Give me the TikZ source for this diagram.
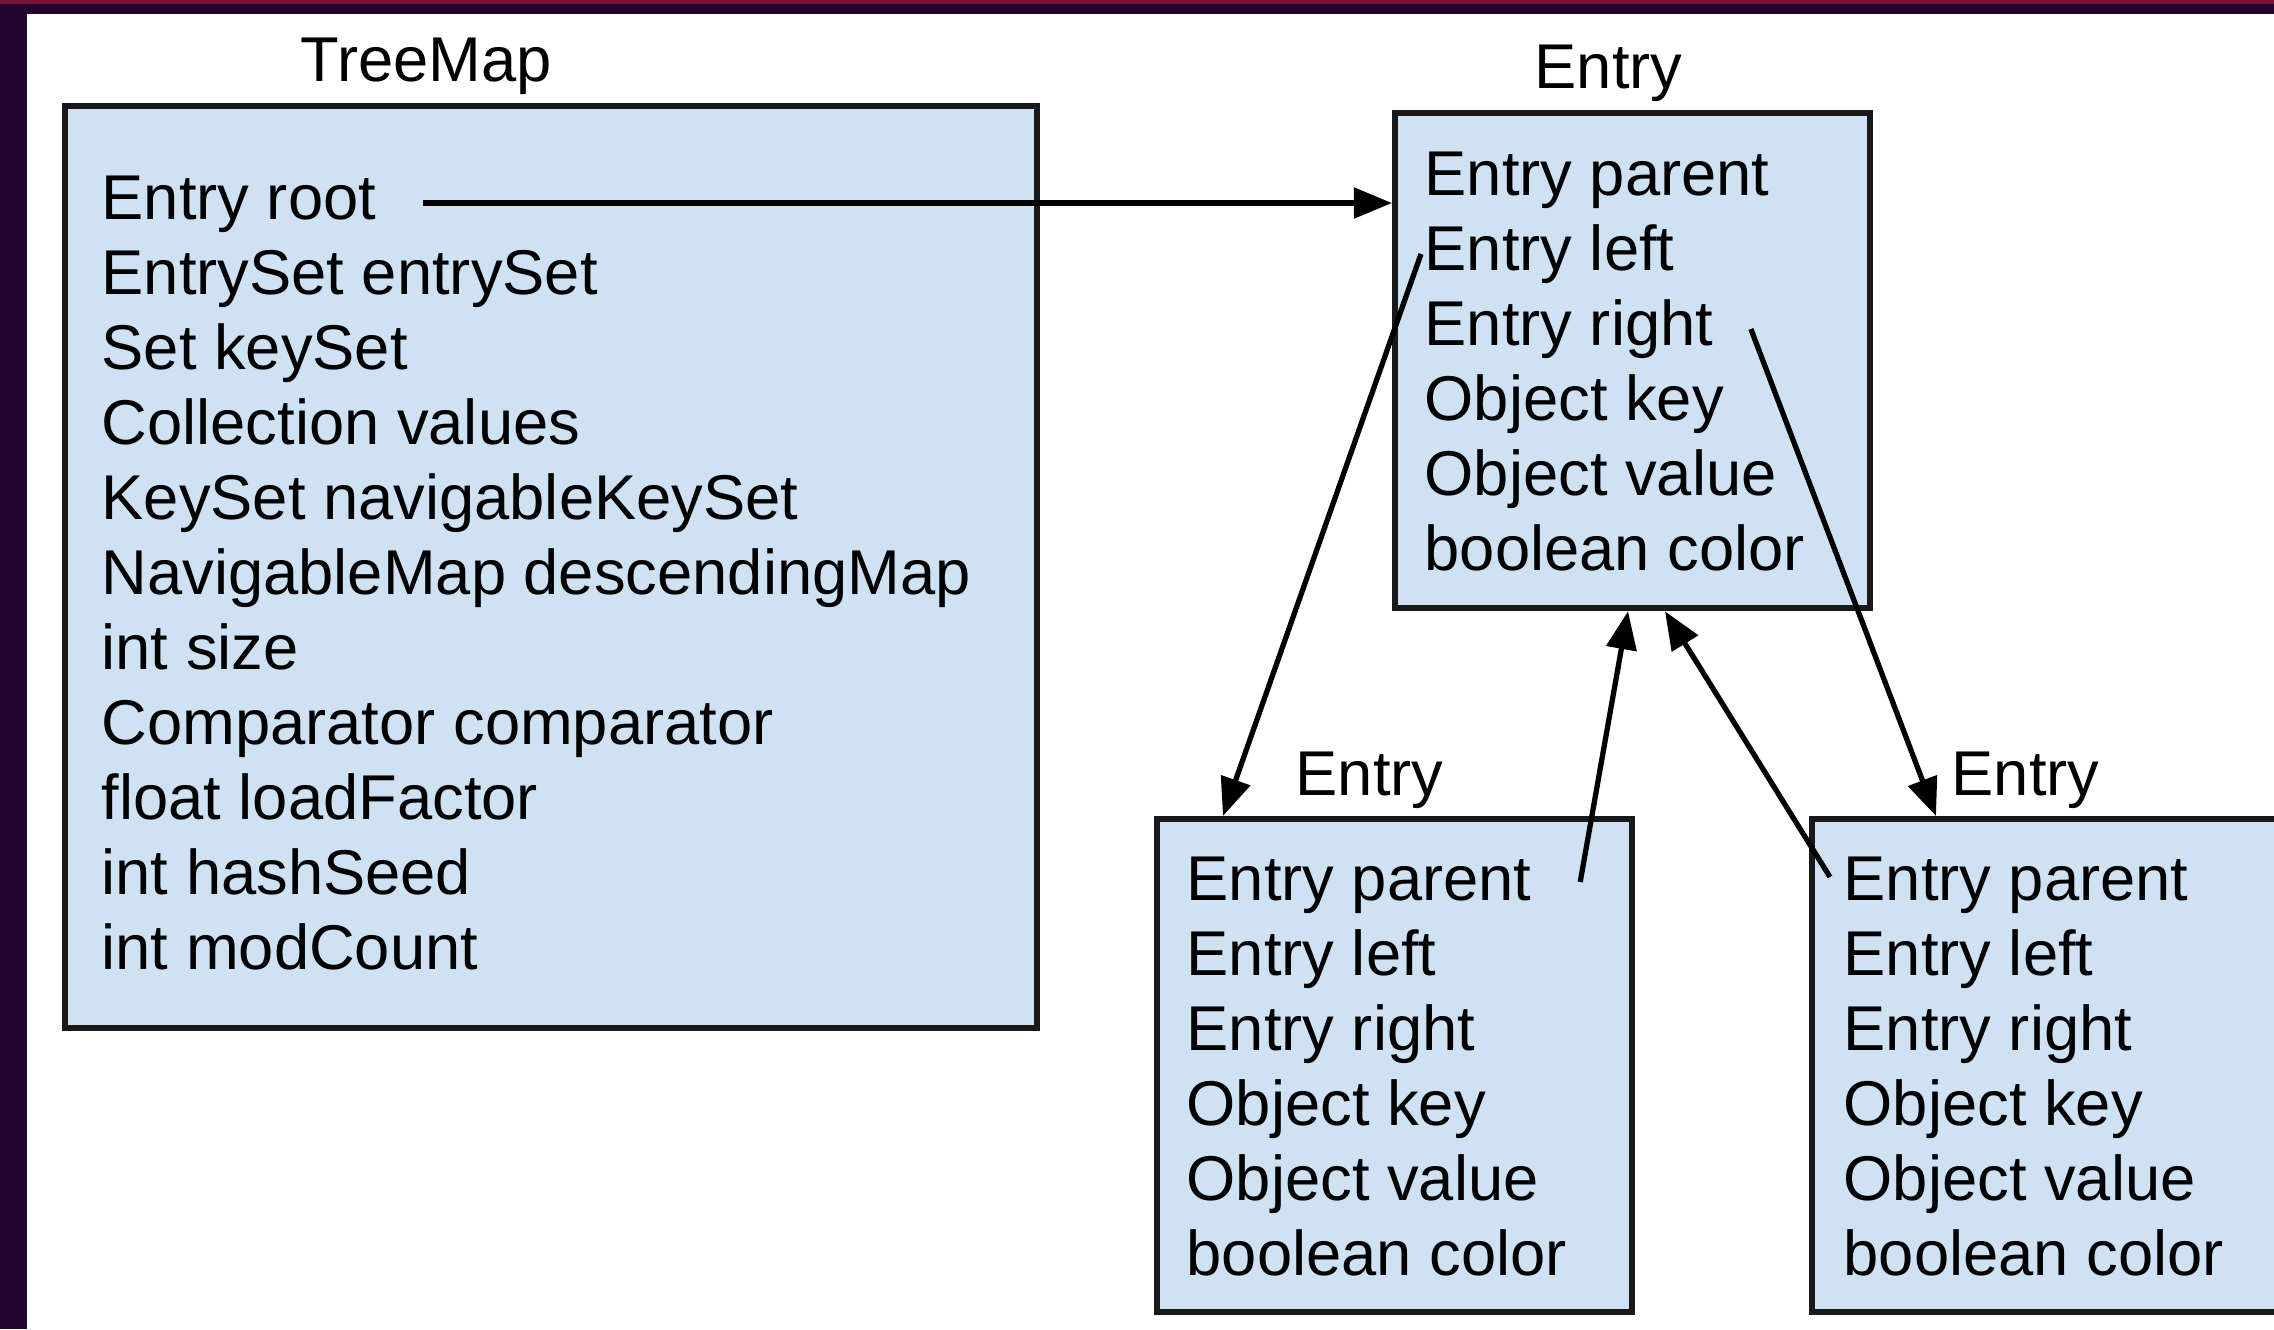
\documentclass[tikz,border=0pt]{standalone}
\usepackage{fontspec}
\setmainfont{Liberation Sans}
\usetikzlibrary{arrows.meta,calc}
\definecolor{boxfill}{HTML}{CFE2F3}
\definecolor{barpurple}{HTML}{22062F}
\definecolor{barred}{HTML}{7B1533}

\begin{document}
\begin{tikzpicture}[x=0.01cm,y=-0.01cm,
  classbox/.style={draw=black!90, line width=1.7pt, fill=boxfill, anchor=north west,
                   minimum width=4.75cm, minimum height=4.93cm, inner sep=0pt},
  field/.style={anchor=base west, inner sep=0pt, font=\fontsize{18}{21.5}\selectfont,
                text height=12.9pt, text depth=3.8pt},
  title/.style={anchor=base west, inner sep=0pt, font=\fontsize{18}{21.5}\selectfont},
  ref/.style={-{Triangle[length=0.38cm,width=0.3cm]}, line width=1.5pt},
]
\useasboundingbox (0,0) rectangle (2274,1329);
\clip (0,0) rectangle (2274,1329);
% page frame
\fill[white] (0,0) rectangle (2274,1329);
\fill[barpurple] (0,0) rectangle (27,1329);
\fill[barpurple] (0,0) rectangle (2274,14);
\fill[barred] (0,0) rectangle (2274,4);

% TreeMap object
\node[classbox, minimum width=9.71cm, minimum height=9.21cm] (tm) at (62,103) {};
\node[title] (tmt) at (300,81) {TreeMap};
\foreach \i/\txt in {1/Entry root, 2/EntrySet entrySet, 3/Set keySet,
    4/Collection values, 5/KeySet navigableKeySet, 6/NavigableMap descendingMap,
    7/int size, 8/Comparator comparator, 9/float loadFactor, 10/int hashSeed,
    11/int modCount}
  \node[field] (f\i) at (101,{219+75*(\i-1)}) {\txt};

% Entry objects
\node[classbox, minimum height=4.95cm] (top) at (1392,110) {};
\node[title] (topt) at (1534,88) {Entry};
\node[classbox] (bl) at (1154,816) {};
\node[title] (blt) at (1295,795) {Entry};
\node[classbox] (br) at (1809,816) {};
\node[title] (brt) at (1951,795) {Entry};

\foreach \i/\txt in {1/Entry parent, 2/Entry left, 3/Entry right,
    4/Object key, 5/Object value, 6/boolean color} {
  \node[field] (t\i) at (1424,{195+75*(\i-1)}) {\txt};
  \node[field] (l\i) at (1186,{900+75*(\i-1)}) {\txt};
  \node[field] (r\i) at (1843,{900+75*(\i-1)}) {\txt};
}

% references
\draw[ref, shorten <=0.46cm] (f1.east) -- (f1.east -| top.west);
\draw[ref] ($(t2.west)+(-3,0)$) -- ($(bl.north west)+(69,0)$);
\draw[ref] ($(t3.east)+(37,0)$) -- ($(br.north west)+(127,0)$);
\draw[ref] ($(l1.east)+(48,-2)$) -- ($(top.south west)+(236,0)$);
\draw[ref] ($(r1.west)+(-13,-7)$) -- ($(top.south west)+(273,0)$);
\end{tikzpicture}
\end{document}
